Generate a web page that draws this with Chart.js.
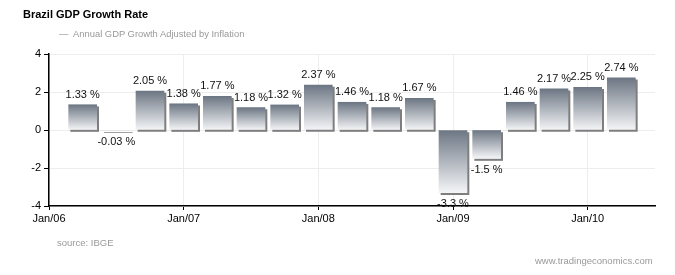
<!DOCTYPE html>
<html>
<head>
<meta charset="utf-8">
<script src="https://cdn.jsdelivr.net/npm/chart.js@4"></script>
<style>
    body { margin: 0; background: #fff; font-family: "Liberation Sans", Arial, sans-serif; }
    #wrap { position: relative; width: 675px; height: 275px; }
    #gdpChart { position: absolute; left: 0; top: 0; }
    .txt { position: absolute; white-space: nowrap; }
</style>
</head>
<body>
<div id="wrap">
    <canvas id="gdpChart" width="675" height="275"></canvas>
    <div class="txt" style="left:23px;top:8px;font-size:11px;font-weight:bold;color:#000;">Brazil GDP Growth Rate</div>
    <div class="txt" style="left:59px;top:28px;font-size:9.4px;color:#999;">&mdash;&nbsp; Annual GDP Growth Adjusted by Inflation</div>
    <div class="txt" style="left:57px;top:237px;font-size:9.5px;color:#999;">source: IBGE</div>
    <div class="txt" style="left:535px;top:255px;font-size:9.5px;color:#999;">www.tradingeconomics.com</div>
</div>
<script>
// Quarterly data, 2006 Q1 .. 2010 Q1
const quarters = ['2006Q1', '2006Q2', '2006Q3', '2006Q4',
                  '2007Q1', '2007Q2', '2007Q3', '2007Q4',
                  '2008Q1', '2008Q2', '2008Q3', '2008Q4',
                  '2009Q1', '2009Q2', '2009Q3', '2009Q4',
                  '2010Q1'];
const growth = [1.33, -0.03, 2.05, 1.38,
                1.77, 1.18, 1.32, 2.37,
                1.46, 1.18, 1.67, -3.3,
                -1.5, 1.46, 2.17, 2.25,
                2.74];
const yTicks = [-4, -2, 0, 2, 4];
const xTickLabels = ['Jan/06', 'Jan/07', 'Jan/08', 'Jan/09', 'Jan/10'];

// months after Jan/06 at the end of each quarter
const toMonth = (q) => (parseInt(q.slice(0, 4), 10) - 2006) * 12 + parseInt(q.slice(5), 10) * 3;
const points = quarters.map((q, i) => ({ x: toMonth(q), y: growth[i] }));

function barGradient(context) {
    const chart = context.chart;
    const { ctx, chartArea, scales } = chart;
    if (!chartArea || !context.raw) return '#9aa2ac';
    const v = context.raw.y;
    const top = scales.y.getPixelForValue(Math.max(v, 0));
    const bottom = scales.y.getPixelForValue(Math.min(v, 0));
    const g = ctx.createLinearGradient(0, top, 0, bottom + 0.01);
    g.addColorStop(0, '#6c7683');
    g.addColorStop(1, '#f4f5f7');
    return g;
}

const barShadow = {
    id: 'barShadow',
    beforeDatasetsDraw(chart) {
        const c = chart.ctx;
        c.save();
        c.shadowColor = '#7e7e7e';
        c.shadowOffsetX = 2;
        c.shadowOffsetY = 2;
        c.shadowBlur = 0;
    },
    afterDatasetsDraw(chart) {
        chart.ctx.restore();
    }
};

const valueLabels = {
    id: 'valueLabels',
    afterDraw(chart) {
        const c = chart.ctx;
        const meta = chart.getDatasetMeta(0);
        c.save();
        c.font = '11px "Liberation Sans", Arial, sans-serif';
        c.fillStyle = '#111';
        c.textAlign = 'center';
        c.textBaseline = 'alphabetic';
        meta.data.forEach((el, i) => {
            const v = growth[i];
            const y = v >= 0 ? el.y - 7 : el.y + 14;
            c.fillText(v + ' %', el.x, y);
        });
        c.restore();
    }
};

new Chart(document.getElementById('gdpChart'), {
    type: 'bar',
    data: {
        datasets: [{
            label: 'Annual GDP Growth Adjusted by Inflation',
            data: points,
            backgroundColor: barGradient,
            borderWidth: 0,
            barThickness: 28
        }]
    },
    options: {
        responsive: false,
        animation: false,
        layout: { padding: { top: 54, right: 20, bottom: 0, left: 0 } },
        plugins: {
            legend: { display: false },
            tooltip: { enabled: false }
        },
        scales: {
            x: {
                type: 'linear',
                min: 0,
                max: 54,
                offset: false,
                afterBuildTicks: (scale) => {
                    scale.ticks = xTickLabels.map((_, i) => ({ value: i * 12 }));
                },
                ticks: {
                    autoSkip: false,
                    maxRotation: 0,
                    padding: 2,
                    color: '#000',
                    font: { size: 11, family: '"Liberation Sans", Arial, sans-serif' },
                    callback: (value) => xTickLabels[value / 12]
                },
                grid: { offset: false, color: '#ededed', tickColor: '#000', tickLength: 4 },
                border: { color: '#000', width: 1.5 },
                afterFit: (scale) => { scale.height = 69; }
            },
            y: {
                min: -4,
                max: 4,
                afterBuildTicks: (scale) => {
                    scale.ticks = yTicks.map(v => ({ value: v }));
                },
                ticks: {
                    padding: 3,
                    color: '#000',
                    font: { size: 11, family: '"Liberation Sans", Arial, sans-serif' }
                },
                grid: { color: '#ededed', tickColor: '#000', tickLength: 5 },
                border: { color: '#000', width: 1.5 },
                afterFit: (scale) => { scale.width = 49; }
            }
        }
    },
    plugins: [barShadow, valueLabels]
});
</script>
</body>
</html>
